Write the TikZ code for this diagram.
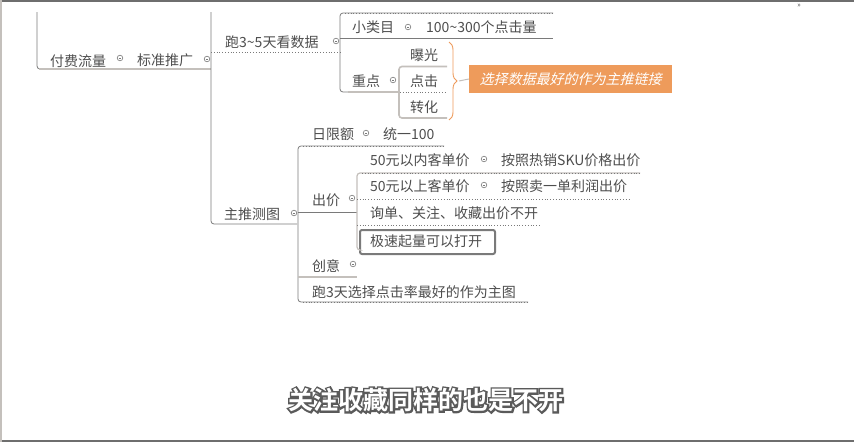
\documentclass[tikz,border=0pt]{standalone}
\usepackage{fontspec}
\setmainfont{Noto Sans CJK SC}
\newfontfamily\cjkbold{Noto Sans CJK SC Bold}
\newfontfamily\cjkoutline[FakeBold=14]{Noto Sans CJK SC Bold}
\newfontfamily\cjkslant[FakeSlant=0.25]{Noto Sans CJK SC}
\usetikzlibrary{decorations.pathreplacing}
\definecolor{txt}{HTML}{4E4E4E}
\definecolor{ln}{HTML}{7A7A7A}
\definecolor{lnl}{HTML}{C4C0BC}
\definecolor{org}{HTML}{EE9B5B}
\definecolor{frame}{HTML}{6E6E6E}
\definecolor{subout}{HTML}{5A5A5A}
\begin{document}
\begin{tikzpicture}[x=1pt,y=-1pt,
  t/.style={anchor=west,inner sep=0pt,text=txt,font=\fontsize{14}{16}\selectfont},
  solidln/.style={draw=ln,line width=0.8pt},
  lightln/.style={draw=lnl,line width=1.6pt},
  dotln/.style={draw=ln,line width=0.8pt,dotted},
  knob/.pic={\draw[ln,fill=white,line width=0.6pt] (0,0) circle (2.8pt); \draw[ln,line width=0.6pt] (-1.4,0)--(1.4,0);}
]
\useasboundingbox (0,0) rectangle (854,442);
\fill[white] (0,0) rectangle (854,442);
% frame
\fill[frame] (0,0) rectangle (854,2);
\fill[frame] (0,440) rectangle (854,442);
\fill[lnl] (0,0) rectangle (1.5,442);

% nodes
\node[t] (root) at (50,61) {付费流量};
\node[t] (std) at (137,60) {标准推广};
\node[t] (run35) at (225,42) {跑3\textasciitilde5天看数据};
\node[t] (xlm) at (352,27) {小类目};
\node[t] (xlmv) at (426,27) {100\textasciitilde300个点击量};
\node[t] (zd) at (352,81) {重点};
\node[t] (bg) at (410,55) {曝光};
\node[t] (dj) at (410,81) {点击};
\node[t] (zh) at (410,107) {转化};
\node[fill=org,minimum width=203pt,minimum height=28pt,inner sep=0pt,text=white,
  font=\cjkslant\fontsize{14}{16}\selectfont] (note) at (570.5,79) {选择数据最好的作为主推链接};
\node[t] (zt) at (224,214) {主推测图};
\node[t] (rxe) at (312,134) {日限额};
\node[t] (rxev) at (383,134) {统一100};
\node[t] (cj) at (312,200) {出价};
\node[t] (c50a) at (370,160) {50元以内客单价};
\node[t] (c50av) at (501,160) {按照热销SKU价格出价};
\node[t] (c50b) at (370,186) {50元以上客单价};
\node[t] (c50bv) at (501,186) {按照卖一单利润出价};
\node[t] (xd) at (370,213) {询单、关注、收藏出价不开};
\node[t] (cy) at (312,266) {创意};
\node[t] (p3) at (312,292) {跑3天选择点击率最好的作为主图};
\node[draw=ln,line width=2pt,rounded corners=2pt,minimum width=135pt,minimum height=24pt,anchor=north west,inner sep=0pt] (jsqlbox) at (359,229) {};
\node[t] (jsql) at (370,241) {极速起量可以打开};

% knobs
\pic at (120,58) {knob};
\pic at (207,59) {knob};
\pic at (336,41) {knob};
\pic at (408,27) {knob};
\pic at (393,80) {knob};
\pic at (294,213) {knob};
\pic at (366,133) {knob};
\pic at (352,198) {knob};
\pic at (484,159) {knob};
\pic at (484,185) {knob};
\pic at (353,264) {knob};

% root branch
\draw[solidln,rounded corners=3pt] (37,12) -- (37,69) -- (40,69);
\draw[lightln] (39,69) -- (211,69);
% standard branch vertical
\draw[solidln,rounded corners=3pt] (211,12) -- (211,224) -- (297,224);
\draw[dotln] (211,52) -- (340,52);
% 3-5 days subtree
\draw[solidln,rounded corners=3pt] (553,13) -- (340,13) -- (340,92) -- (350,92);
\draw[dotln] (345,13) -- (553,13);
\draw[solidln] (340,38) -- (553,38);
\draw[lightln] (348,92) -- (399,92);
% key-point subtree
\draw[lightln,rounded corners=3pt] (447,66.5) -- (399,66.5) -- (399,118) -- (447,118);
\draw[dotln] (400,92.5) -- (447,92.5);
% brace
\draw[org,line width=0.9pt,decorate,decoration={brace,amplitude=8pt}] (449,42) -- (449,120);
\draw[lnl,line width=1pt] (459,81) -- (note.west);
% main test subtree
\draw[solidln,rounded corners=3pt] (444,146) -- (298,146) -- (298,302) -- (528,302);
\draw[dotln] (303,146) -- (444,146);
\draw[dotln] (303,302) -- (528,302);
\draw[solidln] (298,212) -- (357,212);
\draw[lightln] (298,277) -- (357,277);
\draw[lnl,line width=1.2pt,rounded corners=3pt] (640,173) -- (357,173) -- (357,250) -- (359,250);
\draw[dotln] (362,173) -- (640,173);
\draw[dotln] (357,199) -- (630,199);
\draw[dotln] (357,225) -- (540,225);

% top-right mark
\node[inner sep=0pt,text=txt,font=\fontsize{7}{8}\selectfont] (mark) at (799,6) {»};

% subtitle: dark outline layer under a white layer
\node[inner sep=0pt,text=subout,font=\cjkoutline\fontsize{25}{28}\selectfont] (subbg) at (426,400) {关注收藏同样的也是不开};
\node[inner sep=0pt,text=white,font=\cjkbold\fontsize{25}{28}\selectfont] (sub) at (426,400) {关注收藏同样的也是不开};
\end{tikzpicture}
\end{document}
